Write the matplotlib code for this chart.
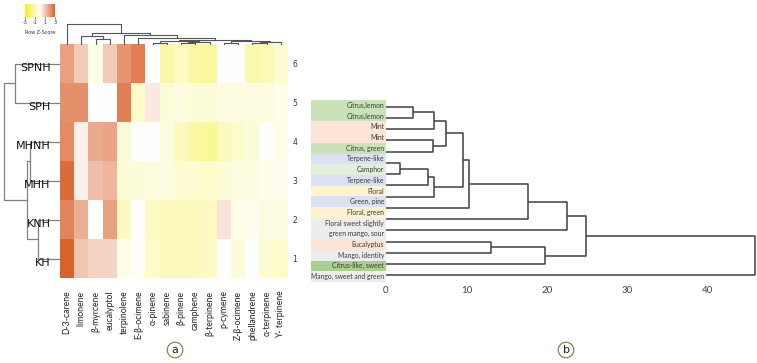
import numpy as np
import matplotlib.pyplot as plt
from matplotlib.colors import LinearSegmentedColormap
from matplotlib.patches import Rectangle

# ---- panel a data
samples = ["SPNH", "SPH", "MHNH", "MHH", "KNH", "KH"]
row_nums = ["6", "5", "4", "3", "2", "1"]
compounds = ["D-3-carene", "limonene", "β-myrcene", "eucalyptol", "terpinolene",
             "E-β-ocimene", "α-pinene", "sabinene", "β-pinene", "camphene",
             "β-terpinene", "p-cymene", "Z-β-ocimene", "phellandrene",
             "α-terpinene", "Υ- terpinene"]
zscores = np.array([
    [1.8, 1.0, -0.3, 1.0, 2.0, 2.4, 0.0, -1.2, -0.8, -1.2, -1.3, 0.0, 0.0, -1.1, -1.0, -0.6],
    [2.1, 2.1, 0.0, 0.0, 2.4, -0.7, 0.4, -0.5, -0.4, -0.5, -0.5, -0.4, -0.4, -0.4, -0.4, -0.3],
    [2.2, 0.3, 1.6, 1.7, -0.5, 0.0, 0.0, -0.4, -0.9, -1.2, -1.4, -0.9, -0.7, -0.5, 0.0, -0.3],
    [2.8, 0.3, 1.2, 1.4, -0.5, -0.5, -0.4, -0.4, -0.6, -0.6, -0.7, -0.5, -0.4, -0.4, -0.3, -0.2],
    [2.3, 1.5, 0.0, 1.8, -0.8, 0.0, -0.8, -0.9, -0.9, -0.9, -0.8, 0.5, -0.3, -0.2, -0.4, -0.4],
    [3.0, 1.1, 0.8, 0.8, -0.3, -0.1, -0.7, -0.9, -0.9, -0.9, -0.8, 0.0, -0.5, 0.0, -0.6, -0.7],
])
# merges (a, b, height), scipy-like ids
row_merges = [(0, 1, 45), (2, 3, 30), (4, 5, 22), (7, 8, 33), (6, 9, 56)]
col_merges = [(2, 3, 6), (1, 16, 9), (6, 7, 2.5), (8, 9, 2), (19, 10, 3), (18, 20, 4),
              (11, 12, 2.5), (13, 14, 2), (23, 15, 3), (22, 24, 4.5), (21, 25, 5.5),
              (5, 26, 7.5), (4, 27, 10), (17, 28, 12), (0, 29, 21)]

# ---- panel b data
odours = ["Citrus,lemon", "Citrus,lemon", "Mint", "Mint", "Citrus, green",
          "Terpene-like", "Camphor", "Terpene-like", "Floral", "Green, pine",
          "Floral, green", "Floral sweet slightly\ngreen mango, sour", "Eucalyptus",
          "Mango, identity", "Citrus-like, sweet", "Mango, sweet and green"]
odour_colors = ["#C9E2B8", "#C9E2B8", "#FCE4D6", "#FCE4D6", "#C9E2B8", "#D9E1F2",
                "#E2EFDA", "#D9E1F2", "#FFF2CC", "#D9E1F2", "#FFF2CC", "#EDEDED",
                "#FCE4D6", "#EDEDED", "#A9D08E", "#EDEDED"]
odour_merges = [(0, 1, 3.3), (16, 2, 6.0), (3, 4, 5.8), (17, 18, 7.45), (5, 6, 1.8),
                (20, 7, 5.2), (21, 8, 6.0), (19, 22, 9.6), (23, 9, 10.3), (24, 10, 17.7),
                (25, 11, 22.5), (12, 13, 13.1), (27, 14, 19.8), (26, 28, 24.8),
                (29, 15, 45.8)]
dist_ticks = [0, 10, 20, 30, 40]


def dendro(n, merges, leaf_pos):
    pos = list(leaf_pos)
    hgt = [0.0] * n
    segs = []
    for a, b, h in merges:
        segs.append(([hgt[a], h, h, hgt[b]], [pos[a], pos[a], pos[b], pos[b]]))
        pos.append((pos[a] + pos[b]) / 2)
        hgt.append(h)
    return segs


W, H = 757, 363
fig = plt.figure(figsize=(W / 100, H / 100), dpi=100)


def px_axes(x0, y0, x1, y1):
    return fig.add_axes([x0 / W, 1 - y1 / H, (x1 - x0) / W, (y1 - y0) / H])


cmap = LinearSegmentedColormap.from_list("z", ["#F5EE1E", "#FFFFFF", "#D9622B"])

# heatmap
ax = px_axes(60, 44, 288, 278)
ax.imshow(zscores, cmap=cmap, vmin=-3, vmax=3, aspect="auto", interpolation="nearest")
ax.set_xticks(range(len(compounds)))
ax.set_xticklabels(compounds, rotation=90, fontsize=6.2, family="Lato", color="#222222")
ax.tick_params(axis="x", length=0, pad=9)
ax.yaxis.tick_right()
ax.set_yticks(range(len(samples)))
ax.set_yticklabels(row_nums, fontsize=5.5, color="#333333")
ax.tick_params(axis="y", length=0, pad=3)
for s in ax.spines.values():
    s.set_visible(False)

# row dendrogram
axl = px_axes(0, 44, 60, 278)
for xs, ys in dendro(len(samples), row_merges, np.arange(len(samples)) + 0.5):
    axl.plot(xs, ys, color="#808080", lw=0.9)
for i, name in enumerate(samples):
    axl.text(9.5, i + 0.62, name, ha="right", va="center", fontsize=8, color="#111111")
axl.set_xlim(60, 0)
axl.set_ylim(len(samples), 0)
axl.axis("off")

# column dendrogram
axt = px_axes(60, 15, 288, 45)
for hs, ps in dendro(len(compounds), col_merges, np.arange(len(compounds)) + 0.5):
    axt.plot(ps, hs, color="#555555", lw=0.8)
axt.set_xlim(0, len(compounds))
axt.set_ylim(0, 30)
axt.axis("off")

# colour key
axc = px_axes(25, 4, 55, 17)
grad = np.linspace(-3, 3, 200).reshape(1, -1)
axc.imshow(grad, cmap=cmap, vmin=-3, vmax=3, aspect="auto", extent=[-3, 3, 0, 1])
axc.set_xticks([-3, -1, 1, 3])
axc.set_xticklabels(["-3", "-1", "1", "3"], fontsize=3.5, color="#333333")
axc.tick_params(axis="x", length=1.5, width=0.4, pad=1)
axc.set_yticks([])
for s in axc.spines.values():
    s.set_visible(False)
fig.text(40 / W, 1 - 32 / H, "Row Z-Score", ha="center", va="center", fontsize=3.5,
         color="#333333")

# odour label table
axtab = px_axes(311, 100, 386, 282)
rows = []
for name in odours:
    rows.append(2 if "\n" in name else 1)
y = 0
for name, col, n in zip(odours, odour_colors, rows):
    axtab.add_patch(Rectangle((0, y), 1, n, facecolor=col, edgecolor="none"))
    axtab.text(0.975, y + n / 2, name, ha="right", va="center", fontsize=4.9,
               family="Lato", color="#3B3B3B", linespacing=1.6)
    y += n
axtab.set_xlim(0, 1)
axtab.set_ylim(sum(rows), 0)
axtab.axis("off")

# odour dendrogram
axr = px_axes(386, 100, 757, 282)
for hs, ps in dendro(len(odours), odour_merges, np.arange(len(odours))):
    axr.plot(hs, ps, color="#404040", lw=1.1, solid_capstyle="butt")
axr.set_xlim(0, 46.1)
axr.set_ylim(15.6, -0.6)
axr.set_xticks(dist_ticks)
axr.set_xticklabels([str(t) for t in dist_ticks], fontsize=7, family="Lato", color="#404040")
axr.tick_params(axis="x", length=0, pad=3)
axr.set_yticks([])
for s in axr.spines.values():
    s.set_visible(False)
axr.patch.set_alpha(0)

# panel letters
for xp, letter in [(175, "a"), (566, "b")]:
    fig.text(xp / W, 1 - 350 / H, letter, ha="center", va="center", fontsize=8,
             color="#222222",
             bbox=dict(boxstyle="circle,pad=0.25", fc="white", ec="#5F8A3A", lw=0.8))

fig.savefig("out.png", dpi=100)
